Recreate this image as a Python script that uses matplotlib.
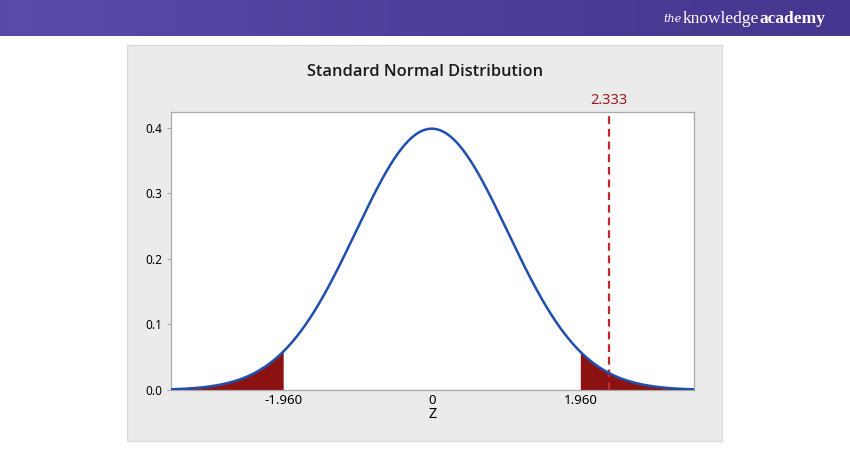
import numpy as np
import matplotlib
matplotlib.use("Agg")
import matplotlib.pyplot as plt
from matplotlib.colors import LinearSegmentedColormap

# data
x_min, x_max = -3.44, 3.46
y_min, y_max = 0.0, 0.4244
crit_lo, crit_hi = -1.960, 1.960
z_stat = 2.333
xtick_vals = [-1.960, 0, 1.960]
xtick_labels = ["-1.960", "0", "1.960"]
ytick_vals = [0.0, 0.1, 0.2, 0.3, 0.4]
ytick_labels = ["0.0", "0.1", "0.2", "0.3", "0.4"]
title = "Standard Normal Distribution"
xlabel = "Z"

def pdf(v):
    return np.exp(-v ** 2 / 2) / np.sqrt(2 * np.pi)

fig = plt.figure(figsize=(8.5, 4.5), dpi=100)
fig.patch.set_facecolor("white")

# banner
bax = fig.add_axes([0, 0.92, 1, 0.08])
grad = np.linspace(0, 1, 256).reshape(1, -1)
cmap = LinearSegmentedColormap.from_list("b", ["#5b4aa8", "#4f3e9a", "#47368f"])
bax.imshow(grad, aspect="auto", cmap=cmap, extent=[0, 1, 0, 1])
bax.set_axis_off()
fig.text(0.781, 0.958, "the", color="white", fontsize=8, family="DejaVu Serif",
         style="italic", ha="left", va="center")
fig.text(0.803, 0.958, "knowledge", color="white", fontsize=12.5, family="Liberation Serif",
         ha="left", va="center")
fig.text(0.893, 0.958, "academy", color="white", fontsize=12.5, family="Liberation Serif",
         weight="bold", ha="left", va="center")

# gray panel
pax = fig.add_axes([127 / 850, 9 / 450, 595 / 850, 396 / 450], zorder=-1)
pax.set_facecolor("#ebebeb")
pax.set_xticks([])
pax.set_yticks([])
for s in pax.spines.values():
    s.set_color("#d8d8d8")
    s.set_linewidth(0.8)

ax = fig.add_axes([171 / 850, 60 / 450, 523 / 850, 278 / 450], zorder=1)
ax.set_facecolor("white")
xs = np.linspace(x_min, x_max, 600)
ax.plot(xs, pdf(xs), color="#1f4fae", linewidth=1.8, zorder=3)
xl = np.linspace(x_min, crit_lo, 200)
xr = np.linspace(crit_hi, x_max, 200)
ax.fill_between(xl, 0, pdf(xl), color="#8c1212", linewidth=0, zorder=2)
ax.fill_between(xr, 0, pdf(xr), color="#8c1212", linewidth=0, zorder=2)
ax.axvline(z_stat, color="#c4262c", linestyle=(0, (3.5, 2.2)), linewidth=1.6, zorder=2.5)
ax.text(z_stat, y_max + 0.006, f"{z_stat:.3f}", color="#9a1a1a", fontsize=10.5,
        family="Noto Sans", ha="center", va="bottom")

ax.set_xlim(x_min, x_max)
ax.set_ylim(y_min, y_max)
ax.set_xticks(xtick_vals)
ax.set_xticklabels(xtick_labels, family="Noto Sans", fontsize=9.5)
ax.set_yticks(ytick_vals)
ax.set_yticklabels(ytick_labels, family="Noto Sans", fontsize=8.5)
ax.tick_params(axis="x", length=0, pad=3)
ax.tick_params(axis="y", length=3, width=0.6, color="#999999", pad=3)
for s in ax.spines.values():
    s.set_color("#a8a8a8")
    s.set_linewidth(0.9)
ax.set_xlabel(xlabel, family="Noto Sans", fontsize=10.5, labelpad=0)
fig.text(425 / 850, (450 - 72) / 450, title, family="Open Sans", fontsize=11.8,
         weight="semibold", ha="center", va="center", color="#1a1a1a")

fig.savefig("out.png", dpi=100, facecolor=fig.get_facecolor())
